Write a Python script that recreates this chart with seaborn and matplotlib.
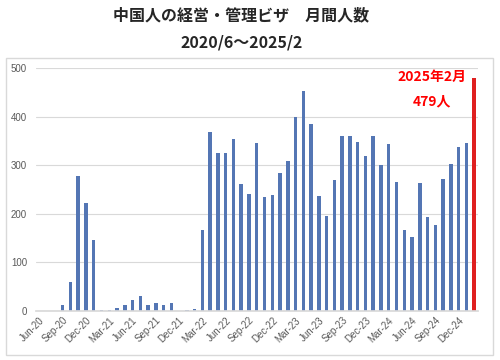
import numpy as np
import pandas as pd
import matplotlib
matplotlib.use("Agg")
import matplotlib.pyplot as plt
import seaborn as sns

# monthly counts, Jun-2020 .. Feb-2025
months = pd.date_range("2020-06-01", "2025-02-01", freq="MS")
counts = [0, 0, 0, 13, 60, 278, 223, 146, 3, 2, 7, 13, 23, 31, 13, 17, 13, 16, 0, 3, 4,
          167, 368, 325, 325, 355, 261, 240, 345, 235, 238, 284, 309, 399, 452, 384,
          236, 195, 270, 361, 361, 347, 318, 361, 301, 343, 266, 166, 153, 264, 194,
          177, 272, 303, 337, 345, 479]
labels = [m.strftime("%b-%y") for m in months]
latest_label = ["2025年2月", "479人"]

sns.set_theme(style="white")
plt.rcParams['font.family'] = ['Noto Sans CJK JP', 'DejaVu Sans']

df = pd.DataFrame({"month": labels, "count": counts})
df["latest"] = ["yes" if i == len(df) - 1 else "no" for i in range(len(df))]

fig = plt.figure(figsize=(5, 3.6), dpi=100)
ax = fig.add_axes([0.071, 0.136, 0.885, 0.675])

sns.barplot(data=df, x="month", y="count", hue="latest",
            palette={"no": "#4472C4", "yes": "#FF0000"},
            dodge=False, width=0.45, legend=False, linewidth=0, ax=ax)
# make the last bar a little wider
for p in ax.patches:
    if p.get_height() == counts[-1] and p.get_facecolor()[0] > 0.9:
        cx = p.get_x() + p.get_width() / 2
        p.set_width(0.55)
        p.set_x(cx - 0.275)

ax.set_xlim(-0.5, len(df) - 0.5)
ax.set_ylim(0, 500)
ax.set_yticks(range(0, 501, 100))
ax.yaxis.grid(True, color="#D9D9D9", linewidth=0.8)
ax.set_axisbelow(True)
ax.set_xticks(range(0, len(df), 3))
ax.set_xticklabels(labels[::3], rotation=45, ha="right", rotation_mode="anchor",
                   fontsize=7, color="#595959", family=["Liberation Sans"])
ax.tick_params(axis="y", labelsize=7, labelcolor="#595959", length=0, pad=6)
ax.tick_params(axis="x", length=0, pad=3)
for lab in ax.get_yticklabels():
    lab.set_family(["Liberation Sans"])
ax.set_xlabel("")
ax.set_ylabel("")
for s in ["top", "right", "left"]:
    ax.spines[s].set_visible(False)
ax.spines["bottom"].set_color("#D9D9D9")

n = len(df) - 1
ax.text(n - 5.4, counts[-1] + 2, latest_label[0], color="#FF0000", fontsize=10,
        fontweight="bold", ha="center", va="center")
ax.text(n - 5.4, counts[-1] - 47, latest_label[1], color="#FF0000", fontsize=10,
        fontweight="bold", ha="center", va="center")

fig.text(0.483, 1 - 15 / 360, "中国人の経営・管理ビザ　月間人数", fontsize=11.5,
         fontweight="bold", ha="center", va="center")
fig.text(0.483, 1 - 42 / 360, "2020/6～2025/2", fontsize=11.5,
         fontweight="bold", ha="center", va="center")

fig.patches.append(plt.Rectangle((0.012, 0.014), 0.974, 0.825, transform=fig.transFigure,
                                 fill=False, edgecolor="#D9D9D9", linewidth=1))

fig.savefig("out.png", dpi=100)
